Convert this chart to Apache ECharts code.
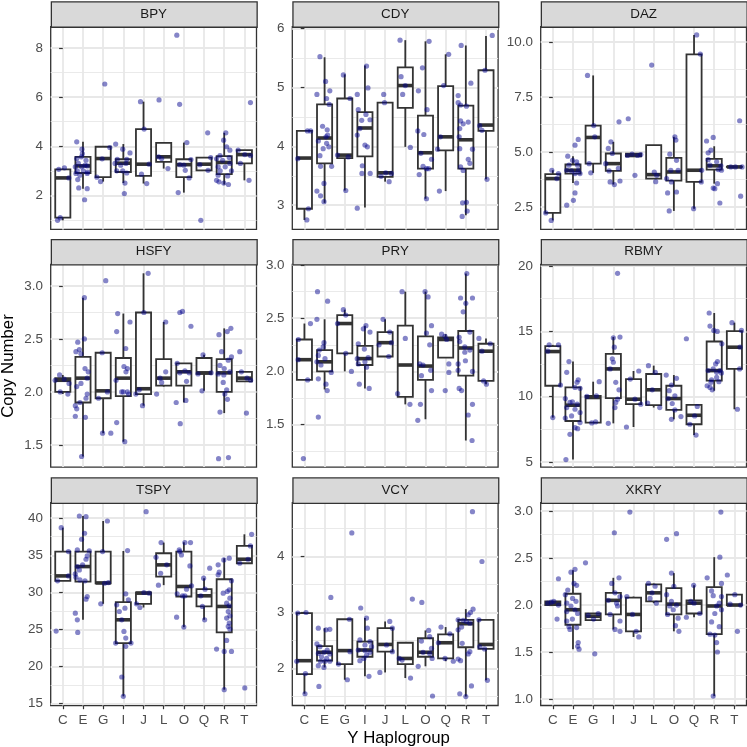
<!DOCTYPE html>
<html><head><meta charset="utf-8">
<script src="https://cdn.jsdelivr.net/npm/echarts@6/dist/echarts.min.js"></script>
<style>html,body{margin:0;padding:0;background:#fff}#c{width:747px;height:747px}</style>
</head><body><div id="c"></div>
<script>
// ---------------- DATA ----------------
const categories = ['C','E','G','I','J','L','O','Q','R','T'];
const genes = ['BPY','CDY','DAZ','HSFY','PRY','RBMY','TSPY','VCY','XKRY'];

// y-axis limits per panel (data units)
const yLimits = [[0.61,8.88],[2.59,6.03],[1.48,10.70],[1.29,3.205],[1.10,3.007],[4.6,20.13],[14.7,42.1],[1.34,4.96],[0.93,3.09]];

// tick labels per panel
const bpyTicks = ['2','4','6','8'];
const cdyTicks = ['3','4','5','6'];
const dazTicks = ['2.5','5.0','7.5','10.0'];
const hsfyTicks = ['1.5','2.0','2.5','3.0'];
const pryTicks = ['1.5','2.0','2.5','3.0'];
const rbmyTicks = ['5','10','15','20'];
const tspyTicks = ['15','20','25','30','35','40'];
const vcyTicks = ['2','3','4'];
const xkryTicks = ['1.0','1.5','2.0','2.5','3.0'];

// box stats per category (C..T): [lower whisker, Q1, median, Q3, upper whisker]
const bpyBoxes = [[0.98,1.09,2.71,3.06,3.09],[2.27,2.91,3.20,3.57,4.18],[2.56,2.74,3.50,3.98,3.98],[2.50,2.95,3.31,3.47,4.09],[2.48,2.79,3.27,4.70,5.82],[3.09,3.36,3.57,4.14,4.14],[2.11,2.74,3.25,3.47,4.15],[3.02,3.02,3.27,3.54,3.54],[2.44,2.86,3.34,3.60,4.55],[2.61,3.30,3.66,3.84,3.84]];
const cdyBoxes = [[2.75,2.94,3.80,4.26,4.26],[3.04,3.71,4.14,4.71,5.51],[3.25,3.80,3.85,4.81,5.22],[2.96,3.83,4.31,4.58,5.37],[3.40,3.48,3.55,4.74,4.74],[3.99,4.65,5.03,5.34,5.80],[3.11,3.62,3.89,4.52,5.78],[3.24,3.93,4.16,5.02,5.56],[2.83,3.62,4.11,4.69,5.71],[3.44,4.26,4.36,5.29,5.87]];
const dazBoxes = [[1.89,2.23,3.79,3.99,4.17],[3.59,4.02,4.17,4.43,4.81],[4.05,4.47,5.66,6.20,8.48],[3.52,4.14,4.47,4.93,5.46],[4.78,4.80,4.85,4.92,4.92],[3.79,3.79,3.97,5.31,5.31],[2.32,3.70,4.09,4.73,5.69],[2.42,3.64,4.17,9.44,10.32],[3.56,4.20,4.37,4.69,5.26],[4.32,4.32,4.32,4.33,4.33]];
const hsfyBoxes = [[1.98,2.00,2.11,2.13,2.16],[1.39,1.90,2.13,2.33,2.89],[1.61,1.94,2.01,2.37,2.37],[1.53,1.96,2.13,2.32,2.74],[1.87,1.98,2.03,2.75,3.12],[2.05,2.06,2.13,2.31,2.66],[1.90,2.06,2.19,2.27,2.27],[2.01,2.17,2.18,2.32,2.35],[1.80,2.00,2.18,2.31,2.60],[2.10,2.10,2.13,2.19,2.19]];
const pryBoxes = [[1.92,1.92,2.11,2.30,2.45],[1.83,2.00,2.09,2.20,2.49],[2.00,2.17,2.45,2.53,2.58],[1.84,2.06,2.12,2.24,2.43],[2.14,2.14,2.27,2.37,2.49],[1.69,1.76,2.06,2.43,2.75],[1.55,1.92,2.05,2.33,2.75],[2.13,2.13,2.30,2.32,2.35],[1.35,1.96,2.22,2.38,2.92],[1.88,1.91,2.19,2.26,2.31]];
const rbmyBoxes = [[8.39,10.83,13.45,13.86,13.96],[5.18,8.13,9.34,10.70,12.68],[7.98,8.01,9.93,10.06,11.14],[7.95,9.88,12.12,13.27,14.56],[7.67,9.42,9.80,11.34,11.96],[9.16,9.34,10.52,11.73,12.37],[8.26,8.98,9.85,10.83,11.65],[7.05,7.88,8.57,9.37,9.37],[10.45,11.22,11.99,14.22,16.40],[9.03,12.12,13.78,15.02,15.66]];
const tspyBoxes = [[31.54,31.54,32.21,35.49,38.73],[26.28,31.45,33.47,35.49,40.30],[28.44,31.22,31.26,35.49,39.63],[15.94,23.13,26.28,28.66,35.58],[27.94,28.44,29.88,29.97,29.97],[30.96,32.12,33.70,35.27,36.71],[25.29,29.43,30.78,35.49,36.75],[26.28,28.08,29.52,30.42,31.90],[16.84,24.57,28.08,31.76,34.60],[33.92,33.92,34.46,36.26,37.83]];
const vcyBoxes = [[1.55,1.90,2.14,2.99,3.00],[2.02,2.14,2.29,2.40,2.72],[1.80,2.08,2.32,2.88,2.88],[1.86,2.21,2.33,2.48,2.90],[1.93,2.30,2.43,2.72,2.84],[1.83,2.08,2.18,2.46,2.46],[2.04,2.21,2.29,2.54,2.68],[2.13,2.18,2.46,2.61,2.74],[1.50,2.38,2.80,2.87,3.06],[1.79,2.35,2.43,2.87,2.87]];
const xkryBoxes = [[2.00,2.00,2.02,2.04,2.04],[1.53,1.79,1.95,2.12,2.37],[1.84,1.84,1.88,1.91,1.91],[1.74,1.90,2.05,2.13,2.29],[1.66,1.72,1.90,2.08,2.09],[2.02,2.04,2.13,2.22,2.23],[1.72,1.90,2.01,2.18,2.34],[1.87,1.91,2.02,2.05,2.21],[1.03,1.69,1.99,2.19,2.51],[2.00,2.00,2.00,2.11,2.11]];

// jittered observations: [category position (0 = C ... 9 = T, with jitter), copy number]
const bpyPoints = [[-0.26,0.98],[-0.13,1.09],[-0.2,3.06],[0.08,3.12],[0.3,2.71],
[0.69,4.18],[0.95,3.88],[0.97,3.70],[0.92,3.57],[0.69,3.50],[1.15,3.43],[0.77,3.30],[1.10,3.23],[0.62,3.16],[0.93,3.16],[1.21,3.20],[0.72,3.00],[1.02,3.00],[1.23,2.95],[0.65,2.89],[0.85,2.82],[1.21,2.89],[0.74,2.64],[0.79,2.30],[1.21,2.27],[1.08,1.82],
[2.08,6.54],[2.33,3.95],[1.95,3.49],[1.69,2.74],[1.87,2.56],
[2.62,4.09],[2.97,3.88],[3.33,3.73],[2.70,3.47],[3.17,3.47],[2.59,3.30],[2.87,3.23],[3.13,3.30],[2.67,3.00],[2.97,3.00],[3.17,2.91],[3.08,2.50],[3.05,2.07],
[3.85,5.82],[4.03,4.70],[4.28,3.27],[3.90,2.86],[4.16,2.48],
[4.77,5.89],[4.75,3.57],[5.21,3.09],[4.90,3.50],
[5.65,8.53],[5.79,5.71],[6.15,4.15],[6.35,3.46],[5.80,3.25],[6.07,3.02],[6.26,2.71],[5.72,2.11],[6.00,3.23],
[7.18,4.55],[7.33,3.54],[6.79,3.25],[7.20,3.02],[6.84,0.98],
[8.08,4.55],[7.97,4.25],[8.12,3.98],[8.28,3.84],[7.79,3.62],[8.25,3.54],[7.62,3.49],[7.92,3.43],[8.28,3.30],[7.70,3.16],[8.05,3.16],[7.80,3.00],[8.36,3.00],[7.70,2.82],[8.17,2.79],[7.62,2.61],[7.74,2.55],[7.98,2.50],[8.21,2.44],
[9.30,5.78],[8.69,3.84],[9.30,3.62],[8.80,3.30],[9.23,2.61],[9.02,3.66]];
const cdyPoints = [[0.15,4.26],[0.31,4.26],[-0.33,3.79],[0.20,2.94],[0.12,2.75],
[0.77,5.52],[1.05,5.10],[0.62,4.88],[1.10,4.81],[1.26,4.94],[1.23,4.71],[0.90,4.34],[1.13,4.28],[1.15,4.19],[0.69,4.09],[1.07,4.16],[1.21,3.99],[1.10,4.05],[0.93,3.96],[0.77,3.84],[0.80,3.66],[1.35,3.66],[0.62,3.24],[0.80,3.16],[0.97,3.37],[0.97,3.06],
[1.93,5.21],[2.26,4.81],[1.64,3.85],[2.17,3.82],[2.05,3.25],
[3.08,5.36],[2.62,4.88],[3.15,4.99],[2.67,4.62],[3.05,4.54],[2.84,4.44],[3.25,4.45],[2.75,4.30],[2.62,4.19],[3.00,4.02],[3.12,3.99],[2.87,3.67],[2.85,3.54],[3.26,3.54],[2.62,2.95],
[3.93,4.88],[3.97,4.74],[3.80,3.49],[4.31,3.54],[4.20,3.40],[4.03,3.55],
[4.74,5.80],[4.79,5.18],[4.87,4.88],[5.25,3.98],[5.00,5.03],
[6.18,5.78],[5.85,5.33],[5.65,4.94],[6.08,4.62],[5.62,4.26],[5.92,4.20],[5.77,3.88],[6.30,3.78],[5.88,3.66],[6.05,3.62],[6.16,3.62],[5.69,3.52],[6.05,3.11],
[7.15,5.56],[6.90,5.03],[6.60,3.95],[6.74,4.16],[6.69,3.24],
[7.77,5.71],[8.25,5.07],[7.62,4.86],[7.62,4.74],[7.74,4.70],[8.03,4.68],[7.74,4.43],[8.12,4.41],[7.70,4.30],[7.87,4.38],[7.67,4.16],[8.33,3.95],[7.70,3.96],[7.74,3.65],[7.87,3.59],[8.12,3.78],[8.20,3.71],[7.84,3.04],[8.03,3.05],[8.07,2.90],[7.82,2.81],
[9.31,5.88],[8.95,5.29],[8.69,4.35],[8.80,4.27],[9.05,3.44]];
const dazPoints = [[-0.35,2.23],[-0.08,1.89],[-0.05,4.17],[0.28,4.02],[0.20,3.79],
[0.74,4.81],[1.10,5.31],[1.26,5.57],[0.98,4.62],[1.18,4.55],[0.80,4.40],[1.23,4.40],[0.69,4.17],[0.93,4.14],[1.26,4.17],[1.10,4.02],[1.35,4.02],[1.18,3.59],[1.10,3.14],[1.02,2.80],[0.69,2.58],
[1.72,8.48],[2.03,6.20],[1.80,4.47],[1.88,4.05],[2.08,5.69],
[3.28,6.37],[2.88,5.46],[2.75,5.16],[2.95,4.93],[2.62,4.47],[3.25,4.25],[2.79,4.14],[3.33,3.68],[2.84,3.64],[3.05,3.52],
[3.74,6.51],[4.07,3.94],[3.70,4.84],[3.93,4.90],[4.20,4.84],[4.36,4.88],
[4.90,8.95],[5.03,4.09],[5.15,3.94],[5.10,3.65],
[6.05,5.69],[6.10,5.54],[5.80,4.90],[6.13,4.62],[5.85,4.17],[6.21,4.17],[5.64,3.79],[5.88,3.64],[6.13,3.18],[5.69,3.14],[5.77,2.32],
[7.13,10.32],[7.31,9.45],[7.36,3.64],[7.38,4.17],[6.98,2.42],
[7.62,5.50],[7.95,5.66],[7.70,4.96],[7.84,5.08],[7.70,4.65],[8.12,4.55],[7.79,4.40],[8.33,4.37],[8.20,4.20],[8.36,4.17],[8.03,3.33],[8.16,3.56],[7.95,3.36],[8.28,2.68],
[9.26,6.42],[9.31,2.99],[8.82,4.32],[9.05,4.32],[9.38,4.32]];
const hsfyPoints = [[-0.38,2.11],[-0.16,2.16],[0.07,2.12],[0.31,2.08],[0.25,1.98],[-0.13,2.00],
[1.07,2.89],[1.07,2.50],[0.74,2.47],[0.82,2.40],[0.65,2.38],[0.90,2.36],[1.10,2.22],[1.26,2.19],[0.69,2.05],[0.90,2.08],[1.21,1.98],[1.15,1.94],[0.62,1.87],[0.69,1.84],[0.85,1.90],[0.62,1.77],[1.12,1.76],[0.93,1.39],[1.21,2.13],
[2.13,3.05],[1.95,2.37],[1.77,1.94],[2.21,2.00],[1.97,1.61],[2.38,1.61],
[2.72,2.74],[3.33,2.66],[2.67,2.57],[3.12,2.41],[3.03,2.24],[3.20,2.22],[3.13,2.19],[2.64,2.11],[3.00,2.00],[3.20,2.00],[2.92,2.00],[2.67,1.71],[3.07,1.53],[3.26,1.98],
[4.23,3.12],[4.02,2.75],[3.79,2.02],[3.62,1.98],[3.95,1.87],
[5.10,2.66],[5.10,2.19],[4.65,1.98],[4.90,2.09],[4.82,2.13],
[5.80,2.75],[5.93,2.76],[6.35,2.62],[5.67,2.27],[6.05,2.20],[5.80,2.18],[6.26,2.18],[6.13,2.10],[5.62,1.90],[6.10,1.92],[5.82,1.70],
[6.95,2.35],[7.35,2.18],[6.70,2.17],[6.90,2.01],
[7.74,2.54],[8.15,2.57],[8.33,2.60],[7.87,2.38],[8.36,2.33],[8.20,2.30],[7.79,2.25],[8.00,2.22],[8.28,2.19],[7.70,2.17],[7.98,2.16],[7.95,2.09],[8.12,2.02],[8.16,1.93],[7.79,1.81],[7.72,1.37],[8.21,1.38],[8.03,1.98],
[8.77,2.38],[9.31,2.11],[9.10,1.80],[8.85,2.19],[9.13,2.13]];
const pryPoints = [[0.30,2.45],[-0.30,2.30],[-0.31,2.11],[0.16,1.92],[-0.05,1.18],
[0.65,2.75],[1.15,2.66],[0.62,2.49],[0.97,2.27],[0.74,2.20],[0.93,2.23],[0.69,2.15],[1.02,2.12],[0.62,2.09],[0.82,2.06],[1.33,1.99],[0.69,1.93],[1.07,1.88],[1.13,1.82],[0.69,1.57],
[1.93,2.58],[2.05,2.53],[1.64,2.45],[2.05,2.17],[2.33,2.00],
[3.05,2.43],[2.92,2.40],[3.25,2.37],[2.67,2.26],[2.97,2.21],[3.16,2.13],[2.67,2.07],[3.08,2.04],[3.00,2.09],[2.72,1.88],[3.21,1.84],[2.62,2.12],
[3.90,2.49],[4.23,2.37],[4.31,2.27],[4.18,2.14],[3.70,2.25],
[4.84,2.75],[5.00,2.31],[4.62,1.79],[5.23,1.69],
[5.98,2.75],[6.13,2.70],[6.30,2.43],[6.05,2.36],[6.21,2.25],[5.72,2.07],[5.88,2.06],[5.80,1.96],[6.26,2.01],[5.75,1.69],[5.62,1.54],[6.30,1.82],
[6.80,2.35],[6.97,2.33],[7.05,2.30],[7.16,2.07],[7.16,1.99],[6.98,1.82],
[8.05,2.92],[7.74,2.69],[8.33,2.69],[8.00,2.64],[7.87,2.56],[7.67,2.32],[7.70,2.28],[7.95,2.23],[8.20,2.37],[7.95,2.18],[7.98,2.10],[7.62,2.07],[8.33,2.00],[7.62,2.01],[7.67,1.84],[7.79,1.82],[8.33,1.69],[8.12,1.59],[8.31,1.35],[8.20,2.20],
[8.65,2.31],[8.80,2.19],[8.88,1.91],[9.02,1.88],[9.21,2.26]];
const rbmyPoints = [[-0.18,13.96],[0.28,13.96],[-0.25,13.48],[0.38,10.88],[0.00,8.39],
[0.80,12.68],[0.69,11.86],[1.26,11.29],[1.20,11.09],[1.10,10.70],[1.35,10.63],[0.62,9.85],[0.85,9.55],[0.97,9.60],[1.21,9.42],[0.69,9.16],[1.10,9.03],[1.35,8.78],[0.93,8.52],[0.62,8.36],[1.10,7.62],[1.23,7.54],[0.85,7.11],[0.65,5.18],[1.35,8.01],
[2.30,11.14],[1.69,10.01],[2.16,10.06],[1.93,7.98],[2.12,8.06],
[3.21,19.44],[3.33,14.56],[3.00,14.50],[3.05,13.78],[2.95,12.89],[3.00,12.63],[3.12,11.09],[3.28,10.52],[3.21,9.80],[3.12,9.55],[3.08,9.16],[2.75,7.95],[2.84,12.12],
[4.26,11.96],[3.65,7.67],[4.07,9.80],[4.36,9.42],[3.84,11.34],
[4.74,12.37],[5.08,11.86],[4.70,9.50],[5.30,9.16],[4.93,10.52],
[5.62,11.65],[6.13,11.40],[5.88,10.88],[5.77,10.45],[6.05,10.06],[5.72,9.85],[5.92,9.47],[6.05,8.98],[6.35,8.47],[5.88,8.26],
[6.62,14.43],[7.03,8.52],[6.79,7.88],[7.10,7.05],[7.16,9.24],
[7.75,16.40],[7.79,15.40],[7.98,15.07],[8.15,14.99],[8.38,14.04],[8.16,12.68],[8.07,12.50],[7.70,11.99],[7.95,12.12],[8.28,11.99],[8.12,11.86],[8.36,11.81],[7.87,11.29],[8.23,11.14],[7.84,11.09],[7.65,10.83],[7.79,10.70],[7.90,10.52],[8.12,11.47],
[8.88,15.66],[9.35,15.07],[9.28,13.78],[9.26,12.12],[9.15,9.03]];
const tspyPoints = [[-0.08,38.73],[0.28,35.49],[-0.26,31.54],[0.28,32.21],[-0.33,24.75],
[0.82,40.30],[1.15,40.21],[1.08,37.97],[0.93,37.16],[0.72,35.72],[1.31,35.58],[1.21,34.91],[1.15,34.46],[0.72,33.47],[0.82,33.02],[0.62,32.48],[0.65,32.03],[0.85,31.67],[1.10,31.54],[1.21,29.43],[1.15,29.07],[0.62,27.18],[0.72,26.28],[0.74,24.57],[0.98,33.70],
[2.21,39.63],[1.97,35.49],[2.07,31.22],[2.26,31.31],[1.88,28.44],
[3.21,35.63],[3.12,29.79],[2.67,28.30],[3.08,27.85],[2.92,26.28],[3.03,24.71],[3.12,23.81],[2.62,23.13],[3.38,23.13],[3.12,22.69],[3.25,28.98],[2.92,18.55],[3.00,15.94],[2.80,27.40],
[4.13,40.89],[4.02,29.97],[3.82,27.94],[3.65,28.44],[4.28,29.88],
[4.87,36.71],[4.62,34.73],[4.85,32.57],[4.74,30.96],[5.15,33.70],
[6.05,36.71],[6.33,36.71],[5.77,35.72],[5.88,35.04],[6.30,33.56],[5.67,29.79],[5.93,29.52],[6.38,30.87],[6.13,30.42],[6.05,29.52],[5.64,26.64],[6.00,25.29],[5.80,35.49],
[7.28,33.25],[7.05,30.42],[6.84,29.52],[6.92,28.08],[7.03,26.28],[6.98,31.90],
[8.25,34.60],[7.98,34.37],[7.70,33.70],[7.75,32.71],[7.70,32.35],[8.36,31.54],[8.25,30.33],[8.15,30.10],[7.95,29.88],[8.28,29.20],[8.12,28.53],[8.25,28.17],[8.20,27.40],[8.28,26.82],[8.12,26.51],[8.25,25.83],[8.20,25.38],[8.28,25.02],[7.62,22.33],[8.12,23.49],[8.00,22.01],[8.36,22.01],[8.00,16.84],
[9.36,37.83],[9.30,36.26],[8.77,33.92],[9.18,34.46],[9.02,17.07]];
const vcyPoints = [[-0.33,2.99],[0.08,3.00],[-0.38,2.13],[0.05,1.91],[0.03,1.55],
[1.31,3.27],[0.69,2.72],[1.07,2.69],[1.26,2.70],[0.62,2.44],[0.77,2.39],[1.13,2.33],[0.97,2.29],[0.69,2.27],[1.26,2.26],[0.85,2.21],[1.10,2.18],[0.80,2.13],[1.26,2.13],[0.69,2.05],[0.97,2.02],[0.72,1.68],[1.02,2.13],
[2.35,4.42],[2.23,2.88],[1.69,2.08],[2.26,2.30],[2.13,1.80],
[2.79,3.08],[3.08,2.90],[3.12,2.72],[2.75,2.51],[3.25,2.48],[3.00,2.42],[2.67,2.33],[3.00,2.32],[3.25,2.29],[2.95,2.18],[2.75,2.14],[3.08,2.24],[3.20,1.86],[3.33,2.39],
[4.23,2.84],[4.36,2.72],[4.07,2.42],[3.74,1.93],[4.36,2.30],
[5.35,3.24],[4.70,2.18],[4.84,2.15],[5.26,1.83],
[5.82,3.18],[6.16,2.68],[5.80,2.49],[6.21,2.57],[6.30,2.36],[5.88,2.29],[6.21,2.27],[6.33,2.18],[5.64,2.04],[6.35,1.51],
[6.77,2.74],[7.21,2.62],[6.64,2.46],[6.97,2.18],[7.38,2.13],
[8.33,4.80],[8.36,3.06],[8.23,3.00],[8.12,2.96],[7.62,2.87],[7.87,2.86],[8.03,2.84],[8.20,2.81],[7.79,2.74],[7.62,2.69],[7.82,2.45],[8.12,2.26],[7.62,2.17],[7.74,2.14],[8.20,2.30],[8.28,1.69],[7.70,1.55],[8.00,1.50],
[8.80,3.91],[8.65,2.87],[8.69,2.39],[9.07,1.79],[8.93,2.35]];
const xkryPoints = [[0.28,2.28],[0.21,1.85],[-0.25,2.02],[0.05,2.04],[0.28,2.00],[-0.08,2.03],
[1.10,2.38],[0.90,2.35],[1.05,2.23],[1.18,2.21],[0.74,2.16],[0.62,2.11],[0.98,2.07],[1.15,2.04],[0.69,2.02],[0.90,1.99],[1.10,1.95],[1.23,1.91],[0.97,1.85],[0.69,1.83],[0.80,1.77],[1.18,1.76],[0.85,1.74],[1.26,1.60],[1.23,1.56],[1.30,1.53],[0.69,1.93],
[1.62,2.45],[2.08,1.48],[1.75,1.89],[2.02,1.85],[2.25,1.91],
[3.05,2.77],[3.28,2.29],[2.92,2.23],[3.08,2.13],[3.33,2.09],[2.75,2.05],[3.16,2.02],[2.84,1.90],[3.33,1.83],[3.08,1.74],[3.33,1.72],[3.21,1.99],
[3.82,2.99],[3.67,2.09],[3.95,1.90],[4.26,1.66],[4.13,1.72],
[4.74,2.23],[5.07,2.20],[4.82,2.07],[5.13,2.02],[4.92,2.13],
[5.64,2.70],[6.13,2.76],[5.88,2.34],[6.00,2.20],[5.64,2.11],[5.88,2.04],[6.13,2.00],[5.80,1.99],[5.69,1.90],[6.21,1.86],[6.08,1.78],[6.25,1.72],[5.97,1.95],
[6.98,2.21],[6.62,1.87],[7.28,1.91],[7.00,2.02],[6.84,2.04],
[8.33,2.99],[8.28,2.51],[7.65,2.29],[7.87,2.15],[7.95,2.10],[8.36,2.09],[8.25,2.02],[8.12,1.99],[8.36,1.95],[8.03,1.91],[7.87,1.82],[8.25,1.77],[7.79,1.69],[8.03,1.68],[8.12,1.60],[8.16,1.50],[7.95,1.03],[8.36,2.23],
[8.65,2.32],[9.02,2.11],[9.31,2.00],[9.15,1.72],[8.79,2.01]];

const allTicks = [bpyTicks,cdyTicks,dazTicks,hsfyTicks,pryTicks,rbmyTicks,tspyTicks,vcyTicks,xkryTicks];
const allBoxes = [bpyBoxes,cdyBoxes,dazBoxes,hsfyBoxes,pryBoxes,rbmyBoxes,tspyBoxes,vcyBoxes,xkryBoxes];
const allPoints = [bpyPoints,cdyPoints,dazPoints,hsfyPoints,pryPoints,rbmyPoints,tspyPoints,vcyPoints,xkryPoints];

// ---------------- LAYOUT / STYLE ----------------
const FONT = '"Liberation Sans", Arial, Helvetica, sans-serif';
const colLeft = [50.7, 292.3, 540.7];
const panelW = 205.8;
const rowTop = [26.6, 264.3, 502.7];
const panelH = 202.8;
const stripH = 25.4;
const GRID_COLOR = '#E8E8E8';
const TXT = 13.4;

const chart = echarts.init(document.getElementById('c'), null, {renderer: 'canvas'});

const grids = [], xAxes = [], yAxes = [], series = [], graphics = [];

function renderBox(params, api) {
  const x = api.value(0);
  const lo = api.coord([x, api.value(1)]);
  const q1 = api.coord([x, api.value(2)]);
  const md = api.coord([x, api.value(3)]);
  const q3 = api.coord([x, api.value(4)]);
  const hi = api.coord([x, api.value(5)]);
  const w = api.size([0.75, 0])[0];
  const cx = q1[0];
  const ls = {stroke: '#333333', lineWidth: 1.8, fill: null};
  return {type: 'group', children: [
    {type: 'line', shape: {x1: cx, y1: hi[1], x2: cx, y2: q3[1]}, style: ls},
    {type: 'line', shape: {x1: cx, y1: q1[1], x2: cx, y2: lo[1]}, style: ls},
    {type: 'rect', shape: {x: cx - w / 2, y: q3[1], width: w, height: q1[1] - q3[1]}, style: {stroke: '#333333', fill: '#ffffff', lineWidth: 1.8}},
    {type: 'line', shape: {x1: cx - w / 2, y1: md[1], x2: cx + w / 2, y2: md[1]}, style: {stroke: '#333333', lineWidth: 3.6}}
  ]};
}

genes.forEach((g, i) => {
  const row = Math.floor(i / 3), col = i % 3;
  const left = colLeft[col], top = rowTop[row];
  grids.push({left: left, top: top, width: panelW, height: panelH, show: true,
    backgroundColor: '#ffffff', borderColor: '#333333', borderWidth: 1.3, containLabel: false});
  const bottomRow = row === 2;
  const catIdx = categories.map((c, k) => k);
  xAxes.push({
    gridIndex: i, type: 'value', min: -0.6, max: 9.6, minInterval: 1, maxInterval: 1,
    axisLine: {show: false},
    axisTick: {show: bottomRow, length: 3.7, lineStyle: {color: '#333333', width: 1.2}, customValues: catIdx},
    axisLabel: {show: bottomRow, customValues: catIdx, margin: 8.5, color: '#4D4D4D', fontSize: TXT, fontFamily: FONT,
      formatter: v => { const k = Math.round(v); return (Math.abs(v - k) < 1e-6 && k >= 0 && k < categories.length) ? categories[k] : ''; }},
    splitLine: {show: true, lineStyle: {color: GRID_COLOR, width: 1.8}},
    minorSplitLine: {show: false}
  });
  const labels = allTicks[i];
  const vals = labels.map(parseFloat);
  const iv = vals[1] - vals[0];
  yAxes.push({
    gridIndex: i, type: 'value', min: yLimits[i][0], max: yLimits[i][1], minInterval: iv, maxInterval: iv,
    axisLine: {show: false},
    axisTick: {show: true, length: 3.7, lineStyle: {color: '#333333', width: 1.2}, customValues: vals},
    axisLabel: {show: true, customValues: vals, margin: 7.8, color: '#4D4D4D', fontSize: TXT, fontFamily: FONT,
      formatter: v => { for (let k = 0; k < vals.length; k++) { if (Math.abs(v - vals[k]) < 1e-7) return labels[k]; } return ''; }},
    splitLine: {show: true, lineStyle: {color: GRID_COLOR, width: 1.8}},
    minorTick: {show: false, splitNumber: 2},
    minorSplitLine: {show: true, lineStyle: {color: GRID_COLOR, width: 0.9}}
  });
  series.push({
    type: 'custom', xAxisIndex: i, yAxisIndex: i, renderItem: renderBox,
    encode: {x: 0, y: [1, 2, 3, 4, 5]},
    data: allBoxes[i].map((b, k) => [k].concat(b)), z: 2, silent: true
  });
  series.push({
    type: 'scatter', xAxisIndex: i, yAxisIndex: i, symbol: 'circle', symbolSize: 5.2,
    itemStyle: {color: 'rgba(0,0,139,0.6)'}, data: allPoints[i], z: 3, silent: true
  });
  // facet strip
  graphics.push({type: 'rect', left: left, top: top - stripH, z: 10,
    shape: {width: panelW, height: stripH},
    style: {fill: '#D9D9D9', stroke: '#333333', lineWidth: 1.3}});
  graphics.push({type: 'text', x: left + panelW / 2, y: top - stripH / 2, z: 11,
    style: {text: g, fill: '#1A1A1A', fontSize: TXT, fontFamily: FONT, align: 'center', verticalAlign: 'middle'}});
});

graphics.push({type: 'text', x: 8.5, y: 366, rotation: Math.PI / 2,
  style: {text: 'Copy Number', fill: '#000000', fontSize: 16.8, fontFamily: FONT, align: 'center', verticalAlign: 'middle'}});
graphics.push({type: 'text', x: 398.6, y: 738,
  style: {text: 'Y Haplogroup', fill: '#000000', fontSize: 16.8, fontFamily: FONT, align: 'center', verticalAlign: 'middle'}});

chart.setOption({
  animation: false,
  backgroundColor: '#ffffff',
  grid: grids, xAxis: xAxes, yAxis: yAxes, series: series, graphic: graphics
});
</script></body></html>
